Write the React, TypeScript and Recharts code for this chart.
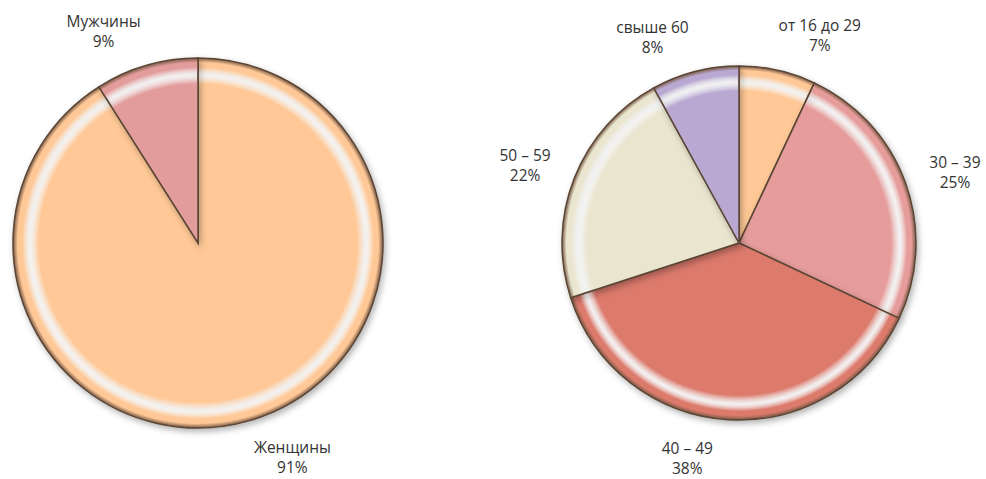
import { PieChart, Pie, Cell } from 'recharts'

const genderNames = ['Женщины', 'Мужчины']
const genderValues = [91, 9]
const genderColors = ['#FFC896', '#E39C9C']

const ageNames = ['от 16 до 29', '30 – 39', '40 – 49', '50 – 59', 'свыше 60']
const ageValues = [7, 25, 38, 22, 8]
const ageColors = ['#FFC896', '#E59C9A', '#DC7A6C', '#E9E5CE', '#B9A9D2']

const genderData = genderNames.map((name, i) => ({ name, value: genderValues[i] }))
const ageData = ageNames.map((name, i) => ({ name, value: ageValues[i] }))

const RADIAN = Math.PI / 180

// eslint-disable-next-line @typescript-eslint/no-explicit-any
function renderLabel(props: any) {
  const { cx, cy, midAngle, outerRadius, name, value } = props
  const cos = Math.cos(-midAngle * RADIAN)
  const sin = Math.sin(-midAngle * RADIAN)
  const x = cx + (outerRadius + 10) * cos + 40 * Math.sign(cos)
  const y = cy + (outerRadius + 37) * sin
  return (
    <text
      x={x}
      y={y}
      textAnchor="middle"
      fill="#333"
      style={{ fontFamily: 'Open Sans, sans-serif', fontSize: 15.5 }}
    >
      <tspan x={x} dy={-3}>{name}</tspan>
      <tspan x={x} dy={20}>{value}%</tspan>
    </text>
  )
}

function bevel(id: string, color: string, cx: number, cy: number, r: number) {
  return (
    <radialGradient key={id} id={id} gradientUnits="userSpaceOnUse" cx={cx} cy={cy} r={r}>
      <stop offset="0%" stopColor={color} />
      <stop offset="86%" stopColor={color} />
      <stop offset="91%" stopColor="#ffffff" stopOpacity={0.45} />
      <stop offset="95%" stopColor={color} />
      <stop offset="97.5%" stopColor={color} />
      <stop offset="100%" stopColor="#7a5a45" />
    </radialGradient>
  )
}

export default function App() {
  return (
    <div style={{ position: 'absolute', left: 0, top: 0, background: '#fff' }}>
      <PieChart width={986} height={479} margin={{ top: 0, right: 0, bottom: 0, left: 0 }}>
        <defs>
          <filter id="shadow" x="-20%" y="-20%" width="140%" height="140%">
            <feDropShadow dx="2" dy="3" stdDeviation="3" floodColor="#000" floodOpacity="0.3" />
          </filter>
          {genderColors.map((c, i) => bevel(`g${i}`, c, 198, 243, 185))}
          {ageColors.map((c, i) => bevel(`a${i}`, c, 739, 243, 177))}
        </defs>
        <Pie
          data={genderData}
          dataKey="value"
          nameKey="name"
          cx={198}
          cy={243}
          outerRadius={185}
          startAngle={90}
          endAngle={-270}
          stroke="#5b4636"
          strokeWidth={1.5}
          label={renderLabel}
          labelLine={false}
          isAnimationActive={false}
          style={{ filter: 'url(#shadow)' }}
        >
          {genderData.map((d, i) => (
            <Cell key={d.name} fill={`url(#g${i})`} />
          ))}
        </Pie>
        <Pie
          data={ageData}
          dataKey="value"
          nameKey="name"
          cx={739}
          cy={243}
          outerRadius={177}
          startAngle={90}
          endAngle={-270}
          stroke="#5b4636"
          strokeWidth={1.5}
          label={renderLabel}
          labelLine={false}
          isAnimationActive={false}
          style={{ filter: 'url(#shadow)' }}
        >
          {ageData.map((d, i) => (
            <Cell key={d.name} fill={`url(#a${i})`} />
          ))}
        </Pie>
      </PieChart>
    </div>
  )
}
